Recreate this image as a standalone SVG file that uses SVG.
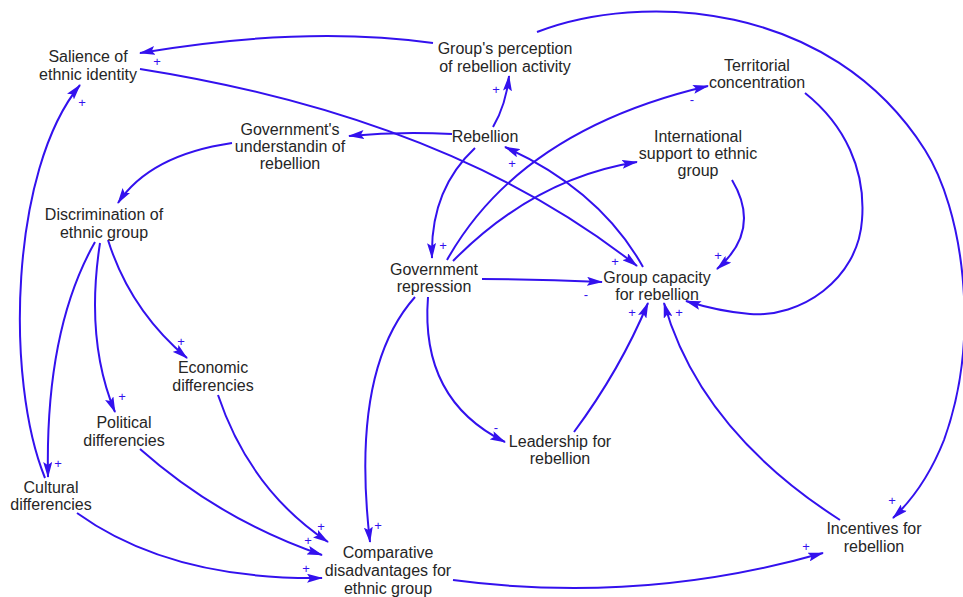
<svg xmlns="http://www.w3.org/2000/svg" width="963" height="597" viewBox="0 0 963 597">
  <style>
    .lbl { font-family: "Liberation Sans", Arial, sans-serif; font-size: 16px; fill: #262626; text-anchor: middle; }
    .edge { fill: none; stroke: #3311ee; stroke-width: 2; marker-end: url(#arrow); }
    .pol { font-family: "Liberation Sans", Arial, sans-serif; font-size: 13px; fill: #3311ee; text-anchor: middle; }
  </style>
  <defs>
    <marker id="arrow" markerUnits="userSpaceOnUse" markerWidth="16" markerHeight="9" refX="15" refY="4.5" orient="auto">
      <path d="M0,0 L16,4.5 L0,9 L3,4.5 z" fill="#3311ee"/>
    </marker>
  </defs>
  <rect width="963" height="597" fill="#ffffff"/>

  <g id="connectors">
    <!-- perception -> salience -->
    <path class="edge" d="M433,43 Q305,25 140,53"/>
    <!-- salience -> group capacity -->
    <path class="edge" d="M140,69 Q450,118 637,266"/>
    <!-- cultural -> salience -->
    <path class="edge" d="M45,478 C5,380 10,170 80,85"/>
    <!-- rebellion -> government's understanding -->
    <path class="edge" d="M452,134 Q400,131 349,136"/>
    <!-- rebellion -> perception -->
    <path class="edge" d="M493,127 Q506,105 509,76"/>
    <!-- rebellion -> government repression -->
    <path class="edge" d="M475,148 Q430,190 432,258"/>
    <!-- government's understanding -> discrimination -->
    <path class="edge" d="M232,143 Q150,155 118,203"/>
    <!-- discrimination -> cultural -->
    <path class="edge" d="M95,242 Q45,330 48,477"/>
    <!-- discrimination -> political -->
    <path class="edge" d="M100,243 Q85,340 115,412"/>
    <!-- discrimination -> economic -->
    <path class="edge" d="M108,240 Q130,310 187,358"/>
    <!-- political -> comparative -->
    <path class="edge" d="M140,449 Q220,520 322,555"/>
    <!-- economic -> comparative -->
    <path class="edge" d="M218,395 Q250,490 328,542"/>
    <!-- cultural -> comparative -->
    <path class="edge" d="M77,513 Q170,580 322,578"/>
    <!-- government repression -> comparative -->
    <path class="edge" d="M415,297 Q350,370 370,542"/>
    <!-- government repression -> leadership -->
    <path class="edge" d="M428,297 Q420,400 505,442"/>
    <!-- government repression -> group capacity -->
    <path class="edge" d="M482,279 Q540,279 602,282"/>
    <!-- government repression -> territorial concentration -->
    <path class="edge" d="M447,260 Q520,130 708,86"/>
    <!-- government repression -> international support -->
    <path class="edge" d="M453,261 Q535,178 637,162"/>
    <!-- group capacity -> rebellion -->
    <path class="edge" d="M643,267 Q600,190 505,147"/>
    <!-- international support -> group capacity -->
    <path class="edge" d="M732,180 Q762,230 717,269"/>
    <!-- territorial concentration -> group capacity -->
    <path class="edge" d="M805,93 C845,125 866,170 862,220 C858,280 800,318 750,314 C725,312 705,307 686,301"/>
    <!-- perception -> incentives -->
    <path class="edge" d="M537,32 C640,-8 830,0 925,150 C962,208 982,335 944,440 Q925,488 893,518"/>
    <!-- leadership -> group capacity -->
    <path class="edge" d="M574,432 Q620,370 648,303"/>
    <!-- incentives -> group capacity -->
    <path class="edge" d="M840,520 Q700,430 664,303"/>
    <!-- comparative -> incentives -->
    <path class="edge" d="M453,580 Q640,605 823,553"/>
  </g>

  <g id="polarities">
    <text class="pol" x="157" y="66">+</text>
    <text class="pol" x="82" y="107">+</text>
    <text class="pol" x="496" y="94">+</text>
    <text class="pol" x="512" y="168">+</text>
    <text class="pol" x="443" y="250">+</text>
    <text class="pol" x="692" y="104">-</text>
    <text class="pol" x="718" y="260">+</text>
    <text class="pol" x="615" y="266">+</text>
    <text class="pol" x="586" y="299">-</text>
    <text class="pol" x="632" y="317">+</text>
    <text class="pol" x="679" y="317">+</text>
    <text class="pol" x="181" y="346">+</text>
    <text class="pol" x="122" y="401">+</text>
    <text class="pol" x="58" y="468">+</text>
    <text class="pol" x="496" y="432">-</text>
    <text class="pol" x="321" y="531">+</text>
    <text class="pol" x="308" y="545">+</text>
    <text class="pol" x="306" y="573">+</text>
    <text class="pol" x="378" y="530">+</text>
    <text class="pol" x="892" y="505">+</text>
    <text class="pol" x="806" y="551">+</text>
  </g>

  <g id="salience">
    <text class="lbl" x="88" y="62">Salience of</text>
    <text class="lbl" x="88" y="80">ethnic identity</text>
  </g>
  <g id="perception">
    <text class="lbl" x="505" y="54">Group's perception</text>
    <text class="lbl" x="505" y="72">of rebellion activity</text>
  </g>
  <g id="understanding">
    <text class="lbl" x="290" y="135">Government's</text>
    <text class="lbl" x="290" y="152">understandin of</text>
    <text class="lbl" x="290" y="169">rebellion</text>
  </g>
  <g id="rebellion">
    <text class="lbl" x="485" y="142">Rebellion</text>
  </g>
  <g id="territorial">
    <text class="lbl" x="757" y="71">Territorial</text>
    <text class="lbl" x="757" y="88">concentration</text>
  </g>
  <g id="international">
    <text class="lbl" x="698" y="142">International</text>
    <text class="lbl" x="698" y="159">support to ethnic</text>
    <text class="lbl" x="698" y="176">group</text>
  </g>
  <g id="discrimination">
    <text class="lbl" x="104" y="220">Discrimination of</text>
    <text class="lbl" x="104" y="238">ethnic group</text>
  </g>
  <g id="repression">
    <text class="lbl" x="434" y="275">Government</text>
    <text class="lbl" x="434" y="292">repression</text>
  </g>
  <g id="capacity">
    <text class="lbl" x="657" y="283">Group capacity</text>
    <text class="lbl" x="657" y="300">for rebellion</text>
  </g>
  <g id="economic">
    <text class="lbl" x="213" y="373">Economic</text>
    <text class="lbl" x="213" y="391">differencies</text>
  </g>
  <g id="political">
    <text class="lbl" x="124" y="428">Political</text>
    <text class="lbl" x="124" y="446">differencies</text>
  </g>
  <g id="cultural">
    <text class="lbl" x="51" y="493">Cultural</text>
    <text class="lbl" x="51" y="510">differencies</text>
  </g>
  <g id="comparative">
    <text class="lbl" x="388" y="558">Comparative</text>
    <text class="lbl" x="388" y="576">disadvantages for</text>
    <text class="lbl" x="388" y="594">ethnic group</text>
  </g>
  <g id="leadership">
    <text class="lbl" x="560" y="447">Leadership for</text>
    <text class="lbl" x="560" y="464">rebellion</text>
  </g>
  <g id="incentives">
    <text class="lbl" x="874" y="534">Incentives for</text>
    <text class="lbl" x="874" y="552">rebellion</text>
  </g>
</svg>
